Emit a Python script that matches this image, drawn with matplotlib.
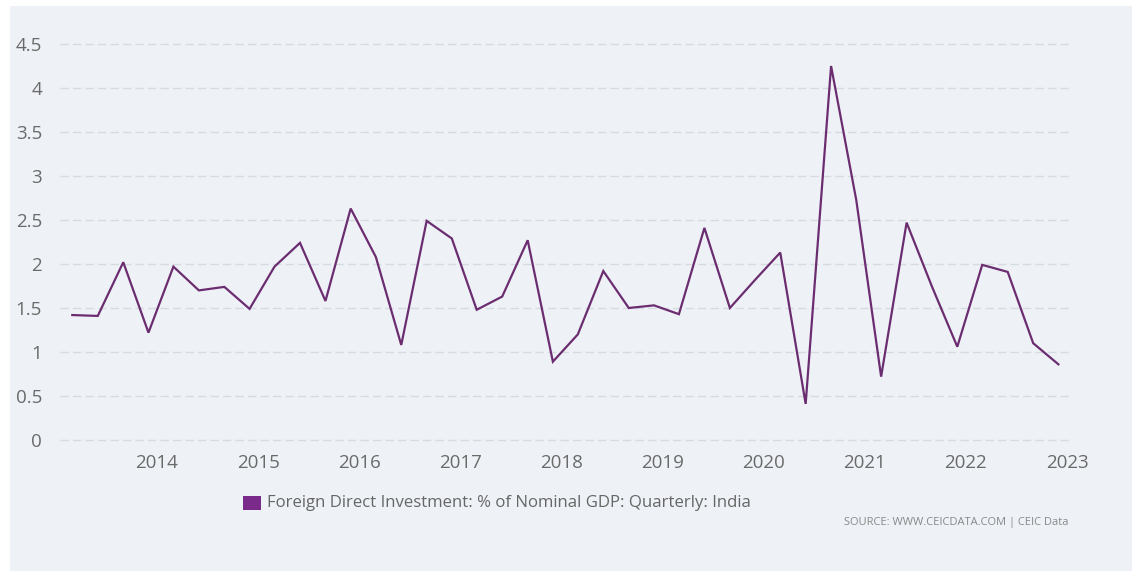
import matplotlib
matplotlib.use("Agg")
import matplotlib.pyplot as plt
from matplotlib.patches import Rectangle
import pandas as pd
import numpy as np

# ---- data ----
quarters = pd.date_range("2013-03-01", periods=40, freq="3MS")
fdi_pct_gdp = [1.42, 1.41, 2.02, 1.22, 1.97, 1.70, 1.74, 1.49,
               1.97, 2.24, 1.58, 2.63, 2.08, 1.08, 2.49, 2.29,
               1.48, 1.63, 2.27, 0.89, 1.20, 1.92, 1.50, 1.53,
               1.43, 2.41, 1.50, 1.82, 2.13, 0.41, 4.25, 2.73,
               0.72, 2.47, 1.74, 1.06, 1.99, 1.91, 1.10, 0.86]
y_ticks = [0, 0.5, 1, 1.5, 2, 2.5, 3, 3.5, 4, 4.5]
y_tick_labels = ["0", "0.5", "1", "1.5", "2", "2.5", "3", "3.5", "4", "4.5"]
x_tick_years = list(range(2014, 2024))
series_label = "Foreign Direct Investment: % of Nominal GDP: Quarterly: India"
source_text = "SOURCE: WWW.CEICDATA.COM | CEIC Data"

def dec_year(ts):
    start = pd.Timestamp(year=ts.year, month=1, day=1)
    end = pd.Timestamp(year=ts.year + 1, month=1, day=1)
    return ts.year + (ts - start) / (end - start)

x_vals = [dec_year(q) for q in quarters]

W, H = 1133, 571
fig = plt.figure(figsize=(W / 100, H / 100), dpi=100, facecolor="white")
panel_color = "#eef2f7"
fig.patches.append(Rectangle((10 / W, 0), (1132 - 10) / W, (571 - 6) / H,
                             transform=fig.transFigure, facecolor=panel_color,
                             edgecolor="none", zorder=-10))

ax_left, ax_right, ax_top, ax_bot = 60, 1068, 44, 440
ax = fig.add_axes([ax_left / W, 1 - ax_bot / H, (ax_right - ax_left) / W, (ax_bot - ax_top) / H])
ax.set_facecolor("none")
for s in ax.spines.values():
    s.set_visible(False)

ax.plot(x_vals, fdi_pct_gdp, color="#6b2d70", linewidth=1.6, solid_joinstyle="miter", zorder=3)

ax.set_xlim(2013.04, 2023.01)
ax.set_ylim(0, 4.5)
ax.set_yticks(y_ticks)
ax.set_yticklabels(y_tick_labels)
ax.set_xticks(x_tick_years)
ax.set_xticklabels([str(y) for y in x_tick_years])
ax.tick_params(axis="both", length=0, labelsize=13.5, labelcolor="#6a6a6a")
ax.tick_params(axis="y", pad=13)
ax.tick_params(axis="x", pad=10)
for lbl in ax.get_xticklabels() + ax.get_yticklabels():
    lbl.set_fontfamily("Open Sans")
ax.grid(axis="y", color="#d6dbe1", linestyle=(0, (6, 3)), linewidth=1.0, zorder=0)
ax.grid(axis="x", visible=False)
for gl in ax.get_ygridlines():
    gl.set_clip_on(False)
ax.set_axisbelow(True)

# legend
fig.patches.append(Rectangle((243 / W, 1 - 510 / H), 18 / W, 14 / H,
                             transform=fig.transFigure, facecolor="#7a2a8a",
                             edgecolor="none"))
fig.text(267 / W, 1 - 503 / H, series_label, fontsize=12.1, color="#666666",
         family="Open Sans", va="center", ha="left")
fig.text(1068 / W, 1 - 522 / H, source_text, fontsize=8.0, color="#888888",
         family="Open Sans", va="center", ha="right")

fig.savefig("out.png", dpi=100, facecolor="white")
